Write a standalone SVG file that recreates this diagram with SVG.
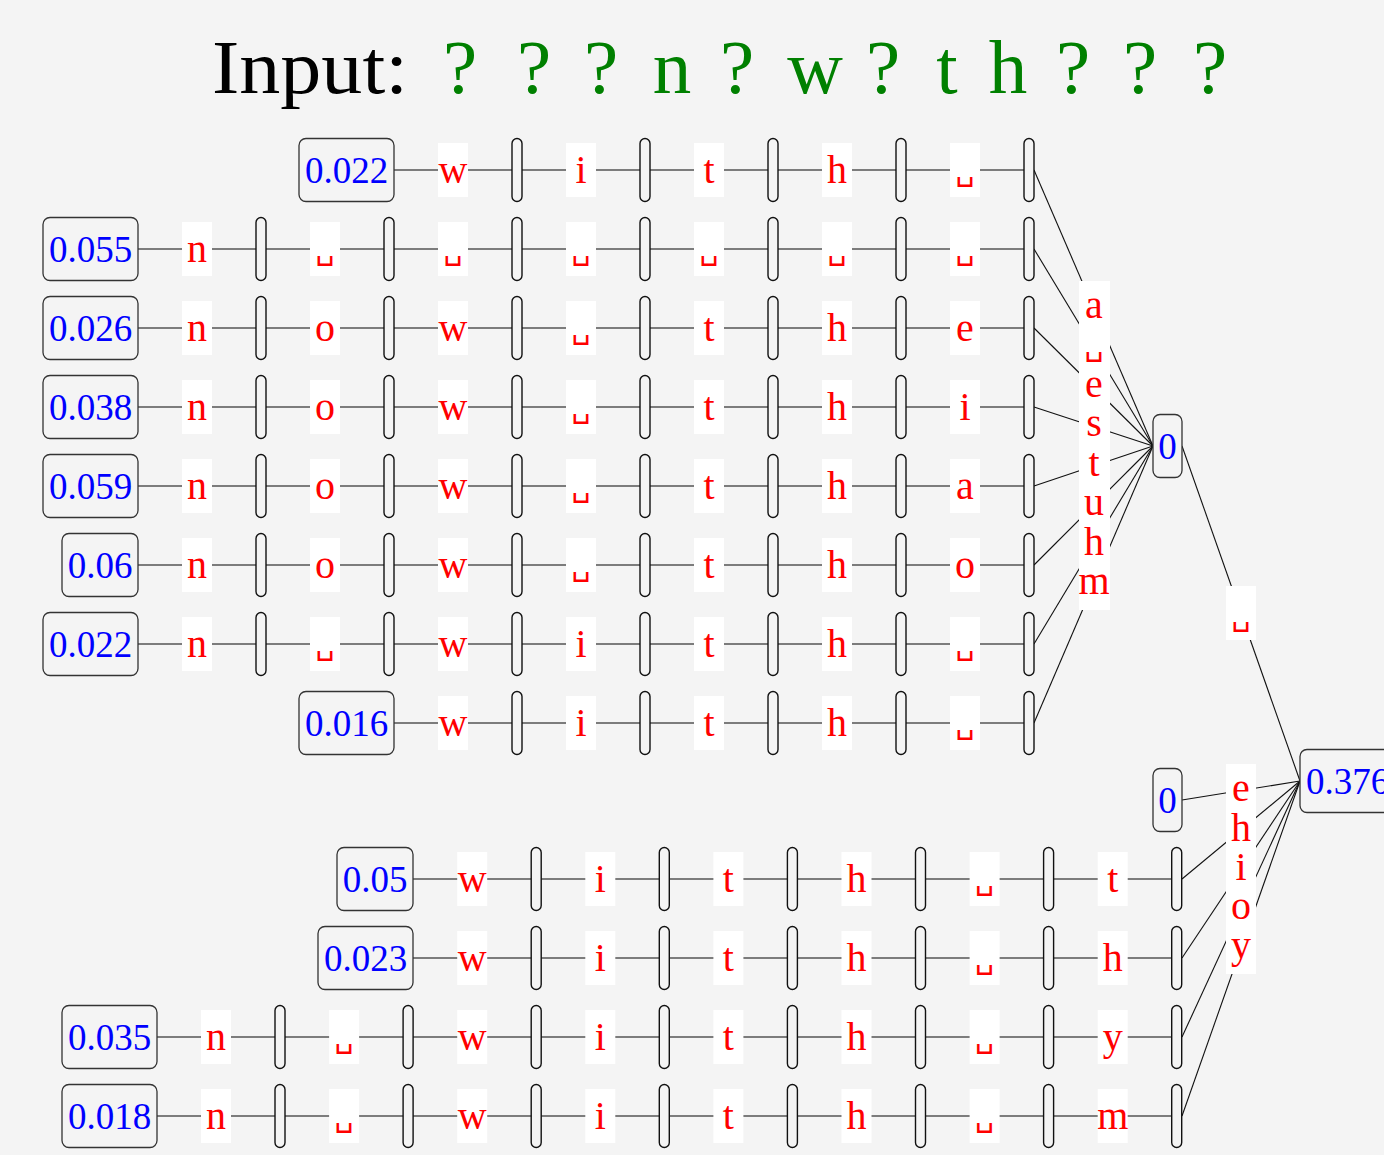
<svg xmlns="http://www.w3.org/2000/svg" width="1384" height="1155" viewBox="0 0 1384 1155">
<style>
.box{fill:#f4f4f4;stroke:#333;stroke-width:1.3}
.pill{fill:#f4f4f4;stroke:#111;stroke-width:1.4}
.lb{fill:#fff}
.num{font-family:"Liberation Serif","DejaVu Serif",serif;font-size:37px;fill:#0000ff;text-anchor:middle}
.ch{font-family:"Liberation Serif","DejaVu Serif",serif;font-size:40px;fill:#ff0000;text-anchor:middle}
.sp{font-family:"DejaVu Sans",sans-serif;font-size:30px;fill:#ff0000;text-anchor:middle}
.wire{stroke:#555;stroke-width:1.3;fill:none}
.fan{stroke:#111;stroke-width:1.1;fill:none}
.ttl{font-family:"Liberation Serif","DejaVu Serif",serif;font-size:77px}
.g{fill:#008000;text-anchor:middle}
</style>
<rect width="1384" height="1155" fill="#f4f4f4"/>

<!-- heading -->
<g id="title" class="ttl">
<text x="212" y="93" fill="#000" textLength="196" lengthAdjust="spacingAndGlyphs">Input:</text>
<text class="g" x="460" y="93">?</text>
<text class="g" x="534" y="93">?</text>
<text class="g" x="601" y="93">?</text>
<text class="g" x="672" y="93">n</text>
<text class="g" x="737" y="93">?</text>
<text class="g" x="815" y="93">w</text>
<text class="g" x="883" y="93">?</text>
<text class="g" x="947" y="93">t</text>
<text class="g" x="1008" y="93">h</text>
<text class="g" x="1073" y="93">?</text>
<text class="g" x="1140" y="93">?</text>
<text class="g" x="1210" y="93">?</text>
</g>

<!-- wires and fan-in edges -->
<g id="connectors">
<line class="wire" x1="394" y1="170" x2="1029" y2="170"/>
<line class="wire" x1="138" y1="249" x2="1029" y2="249"/>
<line class="wire" x1="138" y1="328" x2="1029" y2="328"/>
<line class="wire" x1="138" y1="407" x2="1029" y2="407"/>
<line class="wire" x1="138" y1="486" x2="1029" y2="486"/>
<line class="wire" x1="138" y1="565" x2="1029" y2="565"/>
<line class="wire" x1="138" y1="644" x2="1029" y2="644"/>
<line class="wire" x1="394" y1="723" x2="1029" y2="723"/>
<line class="wire" x1="413" y1="879" x2="1177" y2="879"/>
<line class="wire" x1="413" y1="958" x2="1177" y2="958"/>
<line class="wire" x1="157" y1="1037" x2="1177" y2="1037"/>
<line class="wire" x1="157" y1="1116" x2="1177" y2="1116"/>

<line class="fan" x1="1034" y1="170" x2="1153" y2="446"/>
<line class="fan" x1="1034" y1="249" x2="1153" y2="446"/>
<line class="fan" x1="1034" y1="328" x2="1153" y2="446"/>
<line class="fan" x1="1034" y1="407" x2="1153" y2="446"/>
<line class="fan" x1="1034" y1="486" x2="1153" y2="446"/>
<line class="fan" x1="1034" y1="565" x2="1153" y2="446"/>
<line class="fan" x1="1034" y1="644" x2="1153" y2="446"/>
<line class="fan" x1="1034" y1="723" x2="1153" y2="446"/>

<line class="fan" x1="1182" y1="446" x2="1300" y2="781"/>
<line class="fan" x1="1182" y1="800" x2="1300" y2="781"/>
<line class="fan" x1="1182" y1="879" x2="1300" y2="781"/>
<line class="fan" x1="1182" y1="958" x2="1300" y2="781"/>
<line class="fan" x1="1182" y1="1037" x2="1300" y2="781"/>
<line class="fan" x1="1182" y1="1116" x2="1300" y2="781"/>
</g>

<!-- upper chains -->
<g id="row-t0">
<rect class="box" x="299" y="138.5" width="95" height="63" rx="7"/>
<text class="num" x="346.5" y="183">0.022</text>
<rect class="pill" x="512" y="138.5" width="10" height="63" rx="5"/>
<rect class="pill" x="640" y="138.5" width="10" height="63" rx="5"/>
<rect class="pill" x="768" y="138.5" width="10" height="63" rx="5"/>
<rect class="pill" x="896" y="138.5" width="10" height="63" rx="5"/>
<rect class="pill" x="1024" y="138.5" width="10" height="63" rx="5"/>
<rect class="lb" x="438" y="143" width="30" height="54"/><text class="ch" x="453" y="183">w</text>
<rect class="lb" x="566" y="143" width="30" height="54"/><text class="ch" x="581" y="183">i</text>
<rect class="lb" x="694" y="143" width="30" height="54"/><text class="ch" x="709" y="183">t</text>
<rect class="lb" x="822" y="143" width="30" height="54"/><text class="ch" x="837" y="183">h</text>
<rect class="lb" x="950" y="143" width="30" height="54"/><text class="sp" x="965" y="180">␣</text>
</g>

<g id="row-t1">
<rect class="box" x="43" y="217.5" width="95" height="63" rx="7"/>
<text class="num" x="90.5" y="262">0.055</text>
<rect class="pill" x="256" y="217.5" width="10" height="63" rx="5"/>
<rect class="pill" x="384" y="217.5" width="10" height="63" rx="5"/>
<rect class="pill" x="512" y="217.5" width="10" height="63" rx="5"/>
<rect class="pill" x="640" y="217.5" width="10" height="63" rx="5"/>
<rect class="pill" x="768" y="217.5" width="10" height="63" rx="5"/>
<rect class="pill" x="896" y="217.5" width="10" height="63" rx="5"/>
<rect class="pill" x="1024" y="217.5" width="10" height="63" rx="5"/>
<rect class="lb" x="182" y="222" width="30" height="54"/><text class="ch" x="197" y="262">n</text>
<rect class="lb" x="310" y="222" width="30" height="54"/><text class="sp" x="325" y="259">␣</text>
<rect class="lb" x="438" y="222" width="30" height="54"/><text class="sp" x="453" y="259">␣</text>
<rect class="lb" x="566" y="222" width="30" height="54"/><text class="sp" x="581" y="259">␣</text>
<rect class="lb" x="694" y="222" width="30" height="54"/><text class="sp" x="709" y="259">␣</text>
<rect class="lb" x="822" y="222" width="30" height="54"/><text class="sp" x="837" y="259">␣</text>
<rect class="lb" x="950" y="222" width="30" height="54"/><text class="sp" x="965" y="259">␣</text>
</g>

<g id="row-t2">
<rect class="box" x="43" y="296.5" width="95" height="63" rx="7"/>
<text class="num" x="90.5" y="341">0.026</text>
<rect class="pill" x="256" y="296.5" width="10" height="63" rx="5"/>
<rect class="pill" x="384" y="296.5" width="10" height="63" rx="5"/>
<rect class="pill" x="512" y="296.5" width="10" height="63" rx="5"/>
<rect class="pill" x="640" y="296.5" width="10" height="63" rx="5"/>
<rect class="pill" x="768" y="296.5" width="10" height="63" rx="5"/>
<rect class="pill" x="896" y="296.5" width="10" height="63" rx="5"/>
<rect class="pill" x="1024" y="296.5" width="10" height="63" rx="5"/>
<rect class="lb" x="182" y="301" width="30" height="54"/><text class="ch" x="197" y="341">n</text>
<rect class="lb" x="310" y="301" width="30" height="54"/><text class="ch" x="325" y="341">o</text>
<rect class="lb" x="438" y="301" width="30" height="54"/><text class="ch" x="453" y="341">w</text>
<rect class="lb" x="566" y="301" width="30" height="54"/><text class="sp" x="581" y="338">␣</text>
<rect class="lb" x="694" y="301" width="30" height="54"/><text class="ch" x="709" y="341">t</text>
<rect class="lb" x="822" y="301" width="30" height="54"/><text class="ch" x="837" y="341">h</text>
<rect class="lb" x="950" y="301" width="30" height="54"/><text class="ch" x="965" y="341">e</text>
</g>

<g id="row-t3">
<rect class="box" x="43" y="375.5" width="95" height="63" rx="7"/>
<text class="num" x="90.5" y="420">0.038</text>
<rect class="pill" x="256" y="375.5" width="10" height="63" rx="5"/>
<rect class="pill" x="384" y="375.5" width="10" height="63" rx="5"/>
<rect class="pill" x="512" y="375.5" width="10" height="63" rx="5"/>
<rect class="pill" x="640" y="375.5" width="10" height="63" rx="5"/>
<rect class="pill" x="768" y="375.5" width="10" height="63" rx="5"/>
<rect class="pill" x="896" y="375.5" width="10" height="63" rx="5"/>
<rect class="pill" x="1024" y="375.5" width="10" height="63" rx="5"/>
<rect class="lb" x="182" y="380" width="30" height="54"/><text class="ch" x="197" y="420">n</text>
<rect class="lb" x="310" y="380" width="30" height="54"/><text class="ch" x="325" y="420">o</text>
<rect class="lb" x="438" y="380" width="30" height="54"/><text class="ch" x="453" y="420">w</text>
<rect class="lb" x="566" y="380" width="30" height="54"/><text class="sp" x="581" y="417">␣</text>
<rect class="lb" x="694" y="380" width="30" height="54"/><text class="ch" x="709" y="420">t</text>
<rect class="lb" x="822" y="380" width="30" height="54"/><text class="ch" x="837" y="420">h</text>
<rect class="lb" x="950" y="380" width="30" height="54"/><text class="ch" x="965" y="420">i</text>
</g>

<g id="row-t4">
<rect class="box" x="43" y="454.5" width="95" height="63" rx="7"/>
<text class="num" x="90.5" y="499">0.059</text>
<rect class="pill" x="256" y="454.5" width="10" height="63" rx="5"/>
<rect class="pill" x="384" y="454.5" width="10" height="63" rx="5"/>
<rect class="pill" x="512" y="454.5" width="10" height="63" rx="5"/>
<rect class="pill" x="640" y="454.5" width="10" height="63" rx="5"/>
<rect class="pill" x="768" y="454.5" width="10" height="63" rx="5"/>
<rect class="pill" x="896" y="454.5" width="10" height="63" rx="5"/>
<rect class="pill" x="1024" y="454.5" width="10" height="63" rx="5"/>
<rect class="lb" x="182" y="459" width="30" height="54"/><text class="ch" x="197" y="499">n</text>
<rect class="lb" x="310" y="459" width="30" height="54"/><text class="ch" x="325" y="499">o</text>
<rect class="lb" x="438" y="459" width="30" height="54"/><text class="ch" x="453" y="499">w</text>
<rect class="lb" x="566" y="459" width="30" height="54"/><text class="sp" x="581" y="496">␣</text>
<rect class="lb" x="694" y="459" width="30" height="54"/><text class="ch" x="709" y="499">t</text>
<rect class="lb" x="822" y="459" width="30" height="54"/><text class="ch" x="837" y="499">h</text>
<rect class="lb" x="950" y="459" width="30" height="54"/><text class="ch" x="965" y="499">a</text>
</g>

<g id="row-t5">
<rect class="box" x="62" y="533.5" width="76" height="63" rx="7"/>
<text class="num" x="100" y="578">0.06</text>
<rect class="pill" x="256" y="533.5" width="10" height="63" rx="5"/>
<rect class="pill" x="384" y="533.5" width="10" height="63" rx="5"/>
<rect class="pill" x="512" y="533.5" width="10" height="63" rx="5"/>
<rect class="pill" x="640" y="533.5" width="10" height="63" rx="5"/>
<rect class="pill" x="768" y="533.5" width="10" height="63" rx="5"/>
<rect class="pill" x="896" y="533.5" width="10" height="63" rx="5"/>
<rect class="pill" x="1024" y="533.5" width="10" height="63" rx="5"/>
<rect class="lb" x="182" y="538" width="30" height="54"/><text class="ch" x="197" y="578">n</text>
<rect class="lb" x="310" y="538" width="30" height="54"/><text class="ch" x="325" y="578">o</text>
<rect class="lb" x="438" y="538" width="30" height="54"/><text class="ch" x="453" y="578">w</text>
<rect class="lb" x="566" y="538" width="30" height="54"/><text class="sp" x="581" y="575">␣</text>
<rect class="lb" x="694" y="538" width="30" height="54"/><text class="ch" x="709" y="578">t</text>
<rect class="lb" x="822" y="538" width="30" height="54"/><text class="ch" x="837" y="578">h</text>
<rect class="lb" x="950" y="538" width="30" height="54"/><text class="ch" x="965" y="578">o</text>
</g>

<g id="row-t6">
<rect class="box" x="43" y="612.5" width="95" height="63" rx="7"/>
<text class="num" x="90.5" y="657">0.022</text>
<rect class="pill" x="256" y="612.5" width="10" height="63" rx="5"/>
<rect class="pill" x="384" y="612.5" width="10" height="63" rx="5"/>
<rect class="pill" x="512" y="612.5" width="10" height="63" rx="5"/>
<rect class="pill" x="640" y="612.5" width="10" height="63" rx="5"/>
<rect class="pill" x="768" y="612.5" width="10" height="63" rx="5"/>
<rect class="pill" x="896" y="612.5" width="10" height="63" rx="5"/>
<rect class="pill" x="1024" y="612.5" width="10" height="63" rx="5"/>
<rect class="lb" x="182" y="617" width="30" height="54"/><text class="ch" x="197" y="657">n</text>
<rect class="lb" x="310" y="617" width="30" height="54"/><text class="sp" x="325" y="654">␣</text>
<rect class="lb" x="438" y="617" width="30" height="54"/><text class="ch" x="453" y="657">w</text>
<rect class="lb" x="566" y="617" width="30" height="54"/><text class="ch" x="581" y="657">i</text>
<rect class="lb" x="694" y="617" width="30" height="54"/><text class="ch" x="709" y="657">t</text>
<rect class="lb" x="822" y="617" width="30" height="54"/><text class="ch" x="837" y="657">h</text>
<rect class="lb" x="950" y="617" width="30" height="54"/><text class="sp" x="965" y="654">␣</text>
</g>

<g id="row-t7">
<rect class="box" x="299" y="691.5" width="95" height="63" rx="7"/>
<text class="num" x="346.5" y="736">0.016</text>
<rect class="pill" x="512" y="691.5" width="10" height="63" rx="5"/>
<rect class="pill" x="640" y="691.5" width="10" height="63" rx="5"/>
<rect class="pill" x="768" y="691.5" width="10" height="63" rx="5"/>
<rect class="pill" x="896" y="691.5" width="10" height="63" rx="5"/>
<rect class="pill" x="1024" y="691.5" width="10" height="63" rx="5"/>
<rect class="lb" x="438" y="696" width="30" height="54"/><text class="ch" x="453" y="736">w</text>
<rect class="lb" x="566" y="696" width="30" height="54"/><text class="ch" x="581" y="736">i</text>
<rect class="lb" x="694" y="696" width="30" height="54"/><text class="ch" x="709" y="736">t</text>
<rect class="lb" x="822" y="696" width="30" height="54"/><text class="ch" x="837" y="736">h</text>
<rect class="lb" x="950" y="696" width="30" height="54"/><text class="sp" x="965" y="733">␣</text>
</g>

<!-- lower chains -->
<g id="row-b0">
<rect class="box" x="337" y="847.5" width="76" height="63" rx="7"/>
<text class="num" x="375" y="892">0.05</text>
<rect class="pill" x="531.2" y="847.5" width="10" height="63" rx="5"/>
<rect class="pill" x="659.3" y="847.5" width="10" height="63" rx="5"/>
<rect class="pill" x="787.4" y="847.5" width="10" height="63" rx="5"/>
<rect class="pill" x="915.5" y="847.5" width="10" height="63" rx="5"/>
<rect class="pill" x="1043.6" y="847.5" width="10" height="63" rx="5"/>
<rect class="pill" x="1171.7" y="847.5" width="10" height="63" rx="5"/>
<rect class="lb" x="457.2" y="852" width="30" height="54"/><text class="ch" x="472.2" y="892">w</text>
<rect class="lb" x="585.3" y="852" width="30" height="54"/><text class="ch" x="600.3" y="892">i</text>
<rect class="lb" x="713.4" y="852" width="30" height="54"/><text class="ch" x="728.4" y="892">t</text>
<rect class="lb" x="841.5" y="852" width="30" height="54"/><text class="ch" x="856.5" y="892">h</text>
<rect class="lb" x="969.6" y="852" width="30" height="54"/><text class="sp" x="984.6" y="889">␣</text>
<rect class="lb" x="1097.7" y="852" width="30" height="54"/><text class="ch" x="1112.7" y="892">t</text>
</g>

<g id="row-b1">
<rect class="box" x="318" y="926.5" width="95" height="63" rx="7"/>
<text class="num" x="365.5" y="971">0.023</text>
<rect class="pill" x="531.2" y="926.5" width="10" height="63" rx="5"/>
<rect class="pill" x="659.3" y="926.5" width="10" height="63" rx="5"/>
<rect class="pill" x="787.4" y="926.5" width="10" height="63" rx="5"/>
<rect class="pill" x="915.5" y="926.5" width="10" height="63" rx="5"/>
<rect class="pill" x="1043.6" y="926.5" width="10" height="63" rx="5"/>
<rect class="pill" x="1171.7" y="926.5" width="10" height="63" rx="5"/>
<rect class="lb" x="457.2" y="931" width="30" height="54"/><text class="ch" x="472.2" y="971">w</text>
<rect class="lb" x="585.3" y="931" width="30" height="54"/><text class="ch" x="600.3" y="971">i</text>
<rect class="lb" x="713.4" y="931" width="30" height="54"/><text class="ch" x="728.4" y="971">t</text>
<rect class="lb" x="841.5" y="931" width="30" height="54"/><text class="ch" x="856.5" y="971">h</text>
<rect class="lb" x="969.6" y="931" width="30" height="54"/><text class="sp" x="984.6" y="968">␣</text>
<rect class="lb" x="1097.7" y="931" width="30" height="54"/><text class="ch" x="1112.7" y="971">h</text>
</g>

<g id="row-b2">
<rect class="box" x="62" y="1005.5" width="95" height="63" rx="7"/>
<text class="num" x="109.5" y="1050">0.035</text>
<rect class="pill" x="275" y="1005.5" width="10" height="63" rx="5"/>
<rect class="pill" x="403.1" y="1005.5" width="10" height="63" rx="5"/>
<rect class="pill" x="531.2" y="1005.5" width="10" height="63" rx="5"/>
<rect class="pill" x="659.3" y="1005.5" width="10" height="63" rx="5"/>
<rect class="pill" x="787.4" y="1005.5" width="10" height="63" rx="5"/>
<rect class="pill" x="915.5" y="1005.5" width="10" height="63" rx="5"/>
<rect class="pill" x="1043.6" y="1005.5" width="10" height="63" rx="5"/>
<rect class="pill" x="1171.7" y="1005.5" width="10" height="63" rx="5"/>
<rect class="lb" x="201" y="1010" width="30" height="54"/><text class="ch" x="216" y="1050">n</text>
<rect class="lb" x="329.1" y="1010" width="30" height="54"/><text class="sp" x="344.1" y="1047">␣</text>
<rect class="lb" x="457.2" y="1010" width="30" height="54"/><text class="ch" x="472.2" y="1050">w</text>
<rect class="lb" x="585.3" y="1010" width="30" height="54"/><text class="ch" x="600.3" y="1050">i</text>
<rect class="lb" x="713.4" y="1010" width="30" height="54"/><text class="ch" x="728.4" y="1050">t</text>
<rect class="lb" x="841.5" y="1010" width="30" height="54"/><text class="ch" x="856.5" y="1050">h</text>
<rect class="lb" x="969.6" y="1010" width="30" height="54"/><text class="sp" x="984.6" y="1047">␣</text>
<rect class="lb" x="1097.7" y="1010" width="30" height="54"/><text class="ch" x="1112.7" y="1050">y</text>
</g>

<g id="row-b3">
<rect class="box" x="62" y="1084.5" width="95" height="63" rx="7"/>
<text class="num" x="109.5" y="1129">0.018</text>
<rect class="pill" x="275" y="1084.5" width="10" height="63" rx="5"/>
<rect class="pill" x="403.1" y="1084.5" width="10" height="63" rx="5"/>
<rect class="pill" x="531.2" y="1084.5" width="10" height="63" rx="5"/>
<rect class="pill" x="659.3" y="1084.5" width="10" height="63" rx="5"/>
<rect class="pill" x="787.4" y="1084.5" width="10" height="63" rx="5"/>
<rect class="pill" x="915.5" y="1084.5" width="10" height="63" rx="5"/>
<rect class="pill" x="1043.6" y="1084.5" width="10" height="63" rx="5"/>
<rect class="pill" x="1171.7" y="1084.5" width="10" height="63" rx="5"/>
<rect class="lb" x="201" y="1089" width="30" height="54"/><text class="ch" x="216" y="1129">n</text>
<rect class="lb" x="329.1" y="1089" width="30" height="54"/><text class="sp" x="344.1" y="1126">␣</text>
<rect class="lb" x="457.2" y="1089" width="30" height="54"/><text class="ch" x="472.2" y="1129">w</text>
<rect class="lb" x="585.3" y="1089" width="30" height="54"/><text class="ch" x="600.3" y="1129">i</text>
<rect class="lb" x="713.4" y="1089" width="30" height="54"/><text class="ch" x="728.4" y="1129">t</text>
<rect class="lb" x="841.5" y="1089" width="30" height="54"/><text class="ch" x="856.5" y="1129">h</text>
<rect class="lb" x="969.6" y="1089" width="30" height="54"/><text class="sp" x="984.6" y="1126">␣</text>
<rect class="lb" x="1097.7" y="1089" width="30" height="54"/><text class="ch" x="1112.7" y="1129">m</text>
</g>

<!-- merge nodes -->
<g id="node-merge-top">
<rect class="box" x="1153" y="414.5" width="29" height="63" rx="7"/>
<text class="num" x="1167.5" y="459">0</text>
</g>
<g id="node-merge-low">
<rect class="box" x="1153" y="768.5" width="29" height="63" rx="7"/>
<text class="num" x="1167.5" y="813">0</text>
</g>
<g id="node-root">
<rect class="box" x="1300" y="749.5" width="95" height="63" rx="7"/>
<text class="num" x="1347.5" y="794">0.376</text>
</g>

<!-- stacked edge labels -->
<g id="labels-top">
<rect class="lb" x="1079" y="281" width="31" height="329"/>
<text class="ch" x="1094" y="318">a</text>
<text class="sp" x="1094" y="355">␣</text>
<text class="ch" x="1094" y="397">e</text>
<text class="ch" x="1094" y="436">s</text>
<text class="ch" x="1094" y="475.5">t</text>
<text class="ch" x="1094" y="515">u</text>
<text class="ch" x="1094" y="554.5">h</text>
<text class="ch" x="1094" y="594">m</text>
</g>
<g id="label-mid">
<rect class="lb" x="1226" y="586" width="30" height="54"/>
<text class="sp" x="1241" y="625">␣</text>
</g>
<g id="labels-low">
<rect class="lb" x="1226" y="764" width="30" height="210"/>
<text class="ch" x="1241" y="801">e</text>
<text class="ch" x="1241" y="840.5">h</text>
<text class="ch" x="1241" y="880">i</text>
<text class="ch" x="1241" y="919">o</text>
<text class="ch" x="1241" y="958">y</text>
</g>
</svg>
